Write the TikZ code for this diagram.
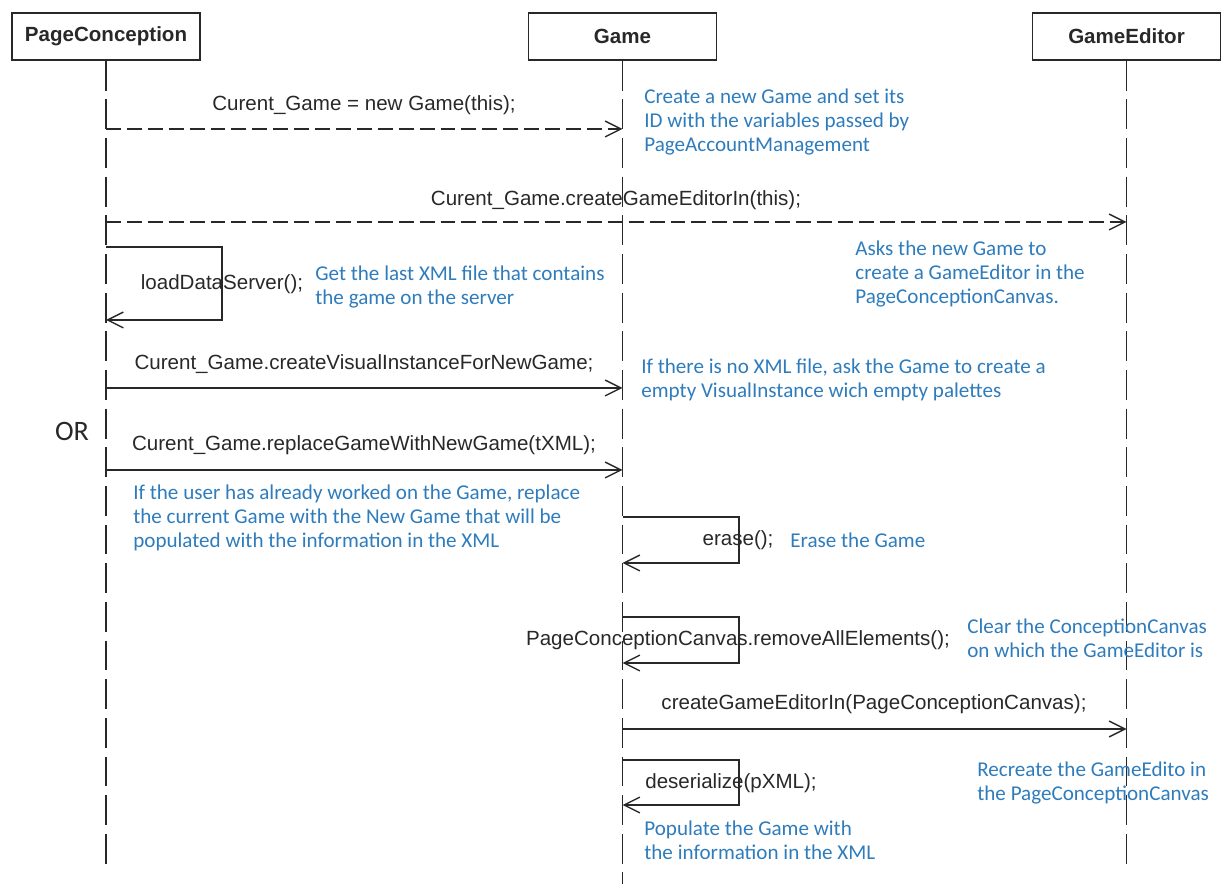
\documentclass[tikz,border=0pt]{standalone}
\usepackage{fontspec}
\setmainfont{Liberation Sans}
\newfontfamily\notefont{Carlito}
\usetikzlibrary{arrows.meta,calc}
\definecolor{noteblue}{RGB}{46,124,188}
\definecolor{inkgray}{RGB}{40,40,40}

\begin{document}
\begin{tikzpicture}[x=0.02cm, y=-0.02cm,
    every node/.style={inner sep=0pt, text=inkgray, font=\fontsize{11.7}{13}\selectfont},
    objbox/.style={draw=inkgray, line width=0.9pt, minimum width=3.76cm, minimum height=0.94cm, font=\fontsize{11.7}{13}\selectfont\bfseries},
    lifeline/.style={draw=inkgray, line width=0.9pt, dash pattern=on 17pt off 5pt},
    call/.style={draw=inkgray, line width=0.8pt, -{Straight Barb[length=9pt,width=9pt,line width=0.8pt]}},
    async/.style={call, dash pattern=on 8.5pt off 3.4pt},
    note/.style={text=noteblue, font=\notefont\fontsize{12}{13.4}\selectfont, align=left, anchor=north west}]
  \useasboundingbox (0,0) rectangle (1221,884);

  \node[objbox] (pc) at (106,36.5) {PageConception};
  \node[objbox] (game) at (622.5,36.5) {Game};
  \node[objbox] (ged) at (1126.5,36.5) {GameEditor};
  \coordinate (pcend) at (106,866);
  \coordinate (gameend) at (622.5,884);
  \coordinate (gedend) at (1126.5,866);
  \draw[lifeline] (pc.south) -- (pcend);
  \draw[lifeline] (game.south) -- (gameend);
  \draw[lifeline] (ged.south) -- (gedend);

  % messages
  \coordinate (m1) at (0,129);
  \coordinate (m2) at (0,222);
  \coordinate (m3) at (0,388);
  \coordinate (m4) at (0,470);
  \coordinate (m5) at (0,729);
  \draw[async] (pc.south |- m1) -- (game.south |- m1);
  \node (newgame) at (364,105) {Curent\_Game = new Game(this);};
  \draw[async] (pc.south |- m2) -- (ged.south |- m2);
  \node (makeeditor) at (616,200) {Curent\_Game.createGameEditorIn(this);};
  \draw[call] (pc.south |- m3) -- (game.south |- m3);
  \node (visual) at (364,364) {Curent\_Game.createVisualInstanceForNewGame;};
  \draw[call] (pc.south |- m4) -- (game.south |- m4);
  \node (replace) at (364,445) {Curent\_Game.replaceGameWithNewGame(tXML);};
  \draw[call] (game.south |- m5) -- (ged.south |- m5);
  \node (recreate) at (874,704) {createGameEditorIn(PageConceptionCanvas);};
  \node[font=\notefont\fontsize{16}{18}\selectfont] (or) at (72,431) {OR};

  % self calls
  \coordinate (load) at (222,247);
  \coordinate (loadback) at (222,320);
  \draw[call] (pc.south |- load) -- (load) -- (loadback) -- (pc.south |- loadback);
  \node (loadlbl) at (222,284) {loadDataServer();};
  \coordinate (erase) at (739,517);
  \coordinate (eraseback) at (739,563);
  \draw[call] (game.south |- erase) -- (erase) -- (eraseback) -- (game.south |- eraseback);
  \node (eraselbl) at (738,540) {erase();};
  \coordinate (clear) at (739,617);
  \coordinate (clearback) at (739,663);
  \draw[call] (game.south |- clear) -- (clear) -- (clearback) -- (game.south |- clearback);
  \node (clearlbl) at (738,640) {PageConceptionCanvas.removeAllElements();};
  \coordinate (deser) at (739,760);
  \coordinate (deserback) at (739,805);
  \draw[call] (game.south |- deser) -- (deser) -- (deserback) -- (game.south |- deserback);
  \node (deserlbl) at (731,783) {deserialize(pXML);};

  % notes
  \node[note] (n1) at (644,89) {Create a new Game and set its\\ID with the variables passed by\\PageAccountManagement};
  \node[note] (n2) at (855,241) {Asks the new Game to\\create a GameEditor in the\\PageConceptionCanvas.};
  \node[note] (n3) at (315,266) {Get the last XML file that contains\\the game on the server};
  \node[note] (n4) at (641,359) {If there is no XML file, ask the Game to create a\\empty VisualInstance wich empty palettes};
  \node[note] (n5) at (133,485) {If the user has already worked on the Game, replace\\the current Game with the New Game that will be\\populated with the information in the XML};
  \node[note, anchor=west] (n6) at (790,540) {Erase the Game};
  \node[note] (n7) at (967,619) {Clear the ConceptionCanvas\\on which the GameEditor is};
  \node[note] (n8) at (977,762) {Recreate the GameEdito in\\the PageConceptionCanvas};
  \node[note] (n9) at (644,821) {Populate the Game with\\the information in the XML};
\end{tikzpicture}
\end{document}
